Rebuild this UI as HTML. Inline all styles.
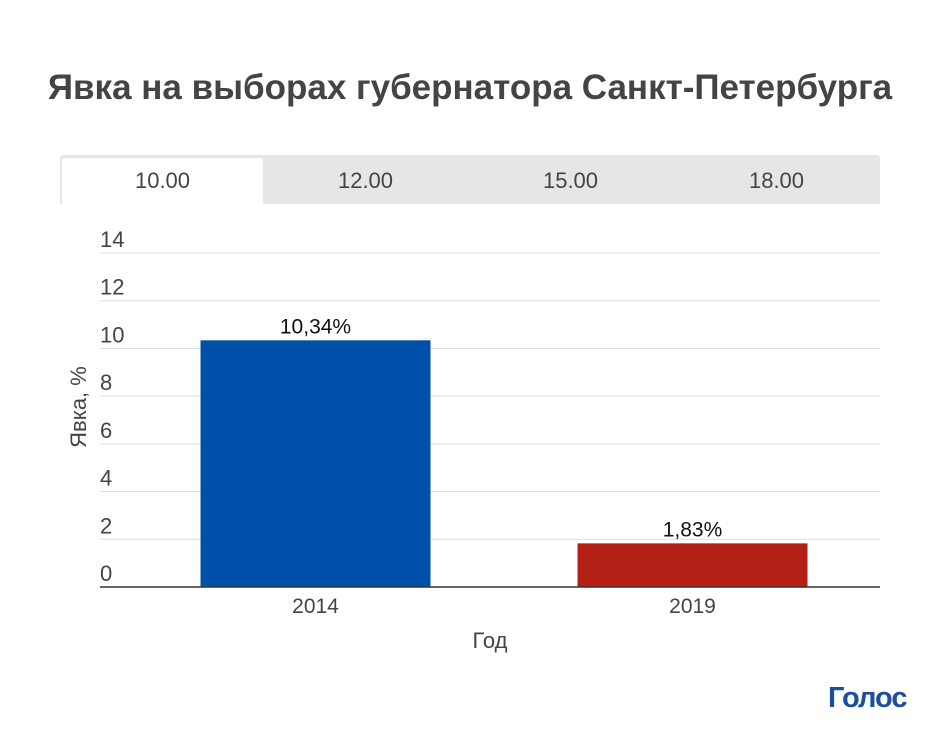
<!DOCTYPE html>
<html><head><meta charset="utf-8"><style>
body{margin:0;width:940px;height:732px;background:#fff;font-family:"Liberation Sans",sans-serif;position:relative;overflow:hidden}
.t{position:absolute}
</style></head><body>
<div class="t" style="left:0;width:940px;top:68px;text-align:center;font-size:35px;font-weight:bold;color:#444">Явка на выборах губернатора Санкт-Петербурга</div>
<div style="position:absolute;left:60px;top:155px;width:820px;height:49px;background:#e6e6e6;border-radius:3px 3px 0 0"></div>
<div style="position:absolute;left:62px;top:158px;width:201px;height:46px;background:#fff;border-radius:3px 3px 0 0;text-align:center;line-height:46px;font-size:22px;color:#444">10.00</div>
<div class="t" style="left:263px;top:158px;width:205px;line-height:46px;text-align:center;font-size:22px;color:#444">12.00</div>
<div class="t" style="left:468px;top:158px;width:205px;line-height:46px;text-align:center;font-size:22px;color:#444">15.00</div>
<div class="t" style="left:673px;top:158px;width:207px;line-height:46px;text-align:center;font-size:22px;color:#444">18.00</div>
<svg id="c" width="940" height="732" style="position:absolute;left:0;top:0"></svg>
<div class="t" style="left:828px;top:682px;font-size:29px;font-weight:bold;color:#1a4f9c;letter-spacing:-1px">Голос</div>
<script>
const categories=["2014","2019"];
const values=[10.34,1.83];
const labels=["10,34%","1,83%"];
const colors=["#0050aa","#b52016"];
const ticks=[0,2,4,6,8,10,12,14];
const svg=document.getElementById('c');const NS="http://www.w3.org/2000/svg";
const x0=100,x1=880,y0=587,pxPer=(587-253)/14;
const y=v=>y0-v*pxPer;
const bandStart=127,band=377,bw=230;
function mk(t,a,txt){const e=document.createElementNS(NS,t);for(const k in a)e.setAttribute(k,a[k]);if(txt!=null)e.textContent=txt;svg.appendChild(e);return e;}
ticks.forEach(t=>{
 if(t>0){const l=mk('line',{x1:x0,x2:x1,y1:y(t),y2:y(t),stroke:'#ddd','stroke-width':1});
 
 }
 const tx=mk('text',{x:x0,y:y(t)-6,'font-size':22,fill:'#444','font-family':'Liberation Sans'},String(t));
 
 
});
categories.forEach((c,i)=>{
 const cx=bandStart+band*(i+0.5);
 const r=mk('rect',{x:cx-bw/2,y:y(values[i]),width:bw,height:y0-y(values[i]),fill:colors[i]});
 
 
 const v=mk('text',{x:cx,y:y(values[i])-7,'text-anchor':'middle','font-size':21,fill:'#111','font-family':'Liberation Sans'},labels[i]);
 
 
 const xl=mk('text',{x:cx,y:613,'text-anchor':'middle','font-size':21,fill:'#444','font-family':'Liberation Sans'},c);
 
 
});
const ax=mk('line',{x1:x0,x2:x1,y1:y0,y2:y0,stroke:'#333','stroke-width':1.5});


const xt=mk('text',{x:490,y:648,'text-anchor':'middle','font-size':22,fill:'#444','font-family':'Liberation Sans'},'Год');


const yt=mk('text',{x:0,y:0,transform:'translate(86,407) rotate(-90)','text-anchor':'middle','font-size':22,fill:'#444','font-family':'Liberation Sans'},'Явка, %');


</script>
</body></html>
